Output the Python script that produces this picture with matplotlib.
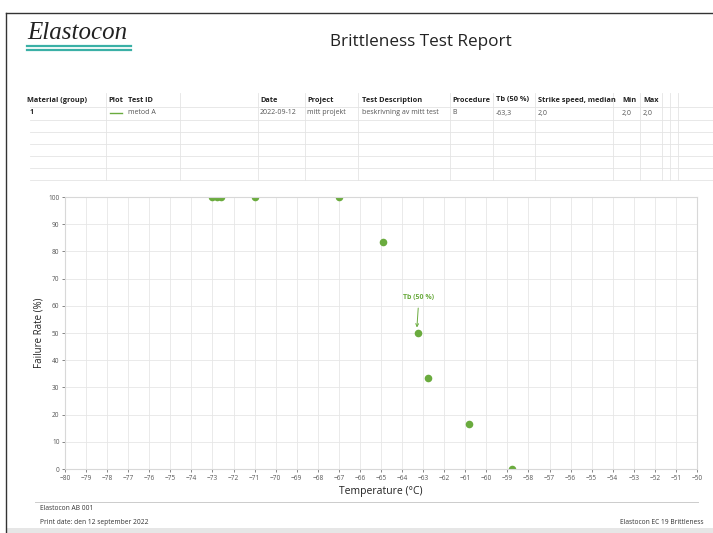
import matplotlib
matplotlib.use("Agg")
import matplotlib.pyplot as plt

# data
temp = [-73.0, -72.8, -72.6, -71.0, -67.0, -64.9, -63.25, -62.75, -60.8, -58.8]
rate = [100, 100, 100, 100, 100, 83.3, 50, 33.3, 16.7, 0]
tb50 = -63.3

headers = ["Material (group)", "Plot", "Test ID", "Date", "Project", "Test Description",
           "Procedure", "Tb (50 %)", "Strike speed, median", "Min", "Max"]
row1 = ["1", "", "metod A", "2022-09-12", "mitt projekt", "beskrivning av mitt test",
        "B", "-63,3", "2,0", "2,0", "2,0"]

W, H = 713, 533
green = "#6aab3e"
fig = plt.figure(figsize=(W / 100, H / 100), dpi=100)
plt.rcParams["font.family"] = ["Open Sans", "DejaVu Sans"]


def fx(x):
    return x / W


def fy(y):
    return 1 - y / H


def hline(y, x0, x1, c="#e4e4e4", lw=0.6):
    fig.add_artist(plt.Line2D([fx(x0), fx(x1)], [fy(y), fy(y)], color=c, lw=lw))


def vline(x, y0, y1, c="#e4e4e4", lw=0.6):
    fig.add_artist(plt.Line2D([fx(x), fx(x)], [fy(y0), fy(y1)], color=c, lw=lw))


# page border
hline(13, 6, 713, c="#333333", lw=1.0)
vline(6, 13, 533, c="#333333", lw=1.0)
fig.add_artist(plt.Rectangle((fx(7), 0), 1, fy(528), color="#e6e6e6", lw=0))

# logo and title
fig.text(fx(27), fy(39), "Elastocon", family="Liberation Serif", style="italic",
         fontsize=18, color="#222222", va="baseline")
hline(45.5, 27, 131, c="#3ab0a6", lw=1.6)
hline(49.5, 27, 131, c="#3ab0a6", lw=1.6)
fig.text(fx(421), fy(42), "Brittleness Test Report", fontsize=12.3, ha="center",
         va="center", color="#222222")

# table
col_x = [27, 108, 128, 260, 307, 362, 452, 496, 538, 622, 643]
for h, x in zip(headers, col_x):
    fig.text(fx(x), fy(100), h, fontsize=5.3, fontweight="bold", va="center", color="#222222")
for v, x in zip(row1, col_x):
    fig.text(fx(x + (3 if v == "1" else 0)), fy(113), v, fontsize=5.0, va="center",
             color="#222222" if v == "1" else "#555555",
             fontweight="bold" if v == "1" else "normal")
fig.add_artist(plt.Line2D([fx(110), fx(122)], [fy(113), fy(113)], color=green, lw=1.0))
for y in [107, 120, 132, 144, 156, 168, 180]:
    hline(y, 30, 713)
for x in [106, 180, 258, 305, 358, 450, 493, 535, 613, 640, 662, 670, 678]:
    vline(x, 93, 180)

# chart
ax = fig.add_axes([fx(65), fy(469), fx(697) - fx(65), fy(197) - fy(469)])
ax.scatter(temp, rate, s=30, color=green, zorder=2, clip_on=True, linewidths=0)
ax.set_xlim(-80, -50)
ax.set_ylim(0, 100)
ax.set_xticks(range(-80, -49))
ax.set_yticks(range(0, 101, 10))
ax.tick_params(labelsize=4.7, colors="#555555", length=2, width=0.5, pad=2)
ax.grid(True, color="#e6e6e6", lw=0.6)
ax.set_axisbelow(True)
for s in ax.spines.values():
    s.set_color("#d8d8d8")
    s.set_linewidth(0.8)
    s.set_zorder(3)
ax.set_xlabel("Temperature (°C)", fontsize=7.5, color="#222222", labelpad=3)
ax.set_ylabel("Failure Rate (%)", fontsize=7, color="#222222", labelpad=3)
ax.annotate("Tb (50 %)", xy=(tb50, 51.5), xytext=(tb50 + 0.1, 63),
            fontsize=5, fontweight="bold", color=green, ha="center", va="center",
            arrowprops=dict(arrowstyle="->", color=green, lw=0.7, shrinkA=3, shrinkB=1))

# footer
hline(502, 35, 698, c="#cccccc", lw=0.7)
fig.text(fx(40), fy(508), "Elastocon AB 001", fontsize=4.8, va="center", color="#333333")
fig.text(fx(40), fy(522), "Print date: den 12 september 2022", fontsize=4.8, va="center",
         color="#333333")
fig.text(fx(703), fy(522), "Elastocon EC 19 Brittleness", fontsize=4.8, va="center",
         ha="right", color="#333333")

fig.savefig("out.png", dpi=100)
